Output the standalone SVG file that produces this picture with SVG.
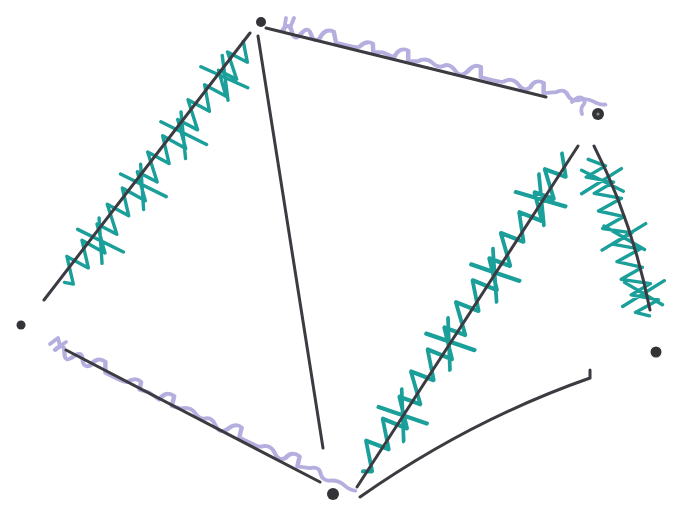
<svg xmlns="http://www.w3.org/2000/svg" width="677" height="509" viewBox="0 0 677 509">
<style>
.edge{fill:none;stroke:#3b3b41;stroke-width:3;stroke-linecap:round}
.teal{fill:none;stroke:#1a9f9a;stroke-width:3.4;stroke-linecap:round;stroke-linejoin:round;vector-effect:non-scaling-stroke}
.lav{fill:none;stroke:#b5afe0;stroke-width:3.8;stroke-linecap:round;stroke-linejoin:round;vector-effect:non-scaling-stroke}
.node{fill:#333338}
</style>
<defs>
<path id="zig" d="M0,6 L14,-10 L18,12 L34,-12 L38,8 L54,-14 L58,10 L76,-10 L80,14 L98,-12 L102,10 L120,-14 L124,12 L142,-10 L146,14 L164,-12 L168,10 L186,-14 L190,12 L208,-10 L212,14 L230,-12 L234,10 L252,-14 L256,12 L274,-10 L278,14 L296,-8 L300,0 M34,-26 L46,24 M24,14 L56,-18 M104,-28 L114,22 M94,12 L128,-20 M170,-28 L180,22 M160,12 L194,-18 M240,-28 L250,22 M228,12 L262,-18"/>
<path id="zig2" d="M0,4 L12,-10 L16,12 L30,-12 L34,10 L48,-14 L52,12 L66,-10 L70,14 L84,-12 L88,10 L102,-14 L106,12 L120,-10 L124,14 L138,-12 L142,10 L156,-14 L160,12 L168,0 M20,-24 L30,22 M8,14 L42,-18 M80,-28 L90,22 M68,12 L104,-18 M140,-26 L150,22 M128,12 L162,-16"/>
<path id="wave" d="M0,0 q4,-12 8,-2 t8,0 t8,-2 t8,2 q2,-12 10,-10 l4,10 t10,0 t10,-2 q4,-8 10,-6 l2,8 l8,-2 t10,2 q2,-12 10,-10 l2,10 t8,-2 q6,-6 12,-2 t10,0 t10,2 t10,-2 q4,-10 10,-8 l2,10 t10,0 t10,-2 q6,-6 12,0 t10,0 q2,-10 10,-8 l2,10 t10,-4 q6,-6 10,0 t10,2 t12,-2 t10,0"/>
</defs>
<g id="connectors">
  <g id="overlays">
    <use href="#zig" class="teal" transform="translate(248,45) rotate(127.7)"/>
    <use href="#zig" class="teal" transform="translate(572,160) rotate(123) scale(1.25,1) translate(0,6)"/>
    <use href="#zig2" class="teal" transform="translate(592,158) rotate(70)"/>
    <use href="#wave" class="lav" transform="translate(282,31) rotate(14.2) scale(1.2,1)"/>
    <path class="lav" d="M572,102 q6,-6 10,-4 q4,2 2,6 q-4,4 -2,10 M284,30 l2,-12 M290,28 l4,-10"/>
    <use href="#wave" class="lav" transform="translate(55,350) rotate(26.5) scale(1.2,1)"/>
    <path class="lav" d="M50,344 l8,-6 l2,8 l6,-4"/>
  </g>
  <g id="edges">
    <path class="edge" d="M266,28 L546,97"/>
    <path class="edge" d="M250,33 L44,300"/>
    <path class="edge" d="M258,36 Q290,240 323,448"/>
    <path class="edge" d="M66,350 L320,482"/>
    <path class="edge" d="M578,146 L357,487"/>
    <path class="edge" d="M594,146 Q632,220 650,310"/>
    <path class="edge" d="M360,497 Q470,420 590,378 L590,370"/>
  </g>
</g>
<g id="node-top"><circle class="node" cx="261" cy="22" r="5"/></g>
<g id="node-d"><circle class="node" cx="598" cy="114" r="6"/><circle cx="598" cy="114" r="1.6" fill="#888"/></g>
<g id="node-f"><circle class="node" cx="21" cy="325" r="4.5"/></g>
<g id="node-bottom"><circle class="node" cx="333" cy="494" r="6"/></g>
<g id="node-right"><circle class="node" cx="656" cy="352" r="5.5"/></g>
</svg>
